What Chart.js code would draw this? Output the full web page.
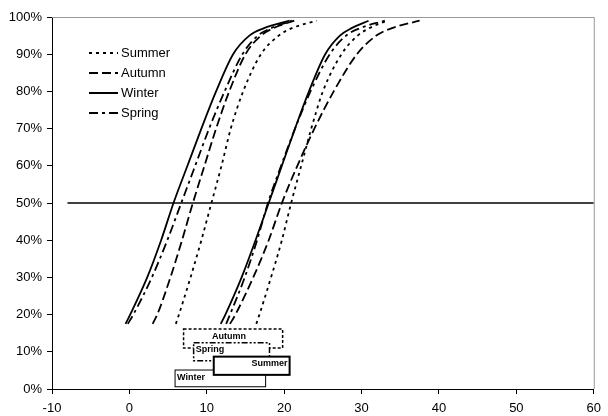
<!DOCTYPE html>
<html>
<head>
<meta charset="utf-8">
<script src="https://cdn.jsdelivr.net/npm/chart.js@4"></script>
<style>
body{margin:0;background:#fff}
#wrap{width:608px;height:416px}
</style>
</head>
<body>
<div id="wrap"><canvas id="c" width="608" height="416"></canvas></div>
<script>
// cumulative levels (%) at which the curves were read
var levels = [17.5, 20, 30, 40, 50, 60, 70, 80, 90, 95, 97, 99];
// first group of curves (x values at each level)
var summerA = [6.0, 6.4, 7.9, 9.3, 10.6, 11.9, 13.1, 14.7, 17.0, 19.3, 21.0, 24.2];
var autumnA = [3.0, 3.6, 5.3, 6.8, 8.2, 9.7, 11.2, 12.9, 15.0, 17.0, 18.6, 21.3];
var winterA = [-0.5, 0.1, 2.3, 4.1, 5.7, 7.5, 9.3, 11.2, 13.4, 15.5, 17.4, 20.7];
var springA = [-0.2, 0.5, 2.9, 4.9, 6.7, 8.5, 10.3, 12.3, 14.6, 16.6, 18.3, 21.0];
// second group of curves
var summerB = [16.4, 16.8, 18.3, 19.7, 20.9, 22.2, 23.5, 25.0, 27.4, 29.5, 31.0, 33.3];
var autumnB = [13.0, 13.7, 16.0, 18.0, 19.7, 21.7, 23.9, 26.4, 29.4, 31.9, 33.9, 37.5];
var winterB = [11.8, 12.4, 14.5, 16.3, 18.0, 19.7, 21.4, 23.2, 25.3, 27.2, 28.7, 30.9];
var springB = [12.5, 13.0, 14.9, 16.5, 17.9, 19.6, 21.4, 23.4, 25.9, 28.0, 29.8, 33.0];
var seasons = ["Summer", "Autumn", "Winter", "Spring"];
// 50% reference line
var refX = [-8, 60];
var refY = 50;
// range boxes at the bottom (x from/to, y top/bottom in %)
var boxSeasons = ["Autumn", "Spring", "Winter", "Summer"];
var boxFrom = [7.0, 8.3, 5.9, 10.9];
var boxTo = [19.8, 18.1, 17.6, 20.7];
var boxTop = [16.1, 12.4, 5.1, 8.7];
var boxBottom = [11.0, 7.6, 0.6, 3.8];

var dashes = {Summer: [3, 4], Autumn: [9, 4], Winter: [], Spring: [9, 4, 3, 4]};
var boxDash = {Autumn: [3, 2], Spring: [6, 2, 2, 2, 2, 2], Winter: [], Summer: []};
var boxWidth = {Autumn: 1.5, Spring: 1.5, Winter: 1, Summer: 2};
var boxAlign = {Autumn: "center", Spring: "left", Winter: "left", Summer: "right"};

function pts(xs) {
  return xs.map(function (x, i) { return {x: x, y: levels[i]}; });
}
function curve(name, xs) {
  return {
    label: name,
    data: pts(xs),
    showLine: true,
    borderColor: "#000",
    borderWidth: 1.8,
    borderDash: dashes[name],
    pointRadius: 0,
    cubicInterpolationMode: "monotone"
  };
}

var datasets = [
  curve("Summer", summerA), curve("Autumn", autumnA), curve("Winter", winterA), curve("Spring", springA),
  curve("Summer", summerB), curve("Autumn", autumnB), curve("Winter", winterB), curve("Spring", springB),
  {
    label: "50%",
    data: refX.map(function (x) { return {x: x, y: refY}; }),
    showLine: true,
    borderColor: "#000",
    borderWidth: 1.3,
    pointRadius: 0
  }
];

var frame = {
  id: "frame",
  beforeDatasetsDraw: function (chart) {
    var a = chart.chartArea, ctx = chart.ctx;
    ctx.save();
    ctx.strokeStyle = "#999";
    ctx.lineWidth = 1;
    ctx.beginPath();
    ctx.moveTo(a.left, a.top + 0.5);
    ctx.lineTo(a.right + 0.5, a.top + 0.5);
    ctx.lineTo(a.right + 0.5, a.bottom);
    ctx.stroke();
    ctx.restore();
  }
};

var extras = {
  id: "extras",
  afterDatasetsDraw: function (chart) {
    var ctx = chart.ctx, xs = chart.scales.x, ys = chart.scales.y;
    ctx.save();
    // boxes
    boxSeasons.forEach(function (s, i) {
      var l = xs.getPixelForValue(boxFrom[i]), r = xs.getPixelForValue(boxTo[i]);
      var t = ys.getPixelForValue(boxTop[i]), b = ys.getPixelForValue(boxBottom[i]);
      ctx.fillStyle = "#fff";
      ctx.fillRect(l, t, r - l, b - t);
      ctx.strokeStyle = "#000";
      ctx.lineWidth = boxWidth[s];
      ctx.setLineDash(boxDash[s]);
      ctx.strokeRect(l, t, r - l, b - t);
      ctx.setLineDash([]);
      ctx.fillStyle = "#000";
      ctx.font = "bold 9px 'Liberation Sans', Arial, sans-serif";
      ctx.textBaseline = "middle";
      ctx.textAlign = boxAlign[s];
      var tx = s === "Autumn" ? (l + r) / 2 - 4 : (boxAlign[s] === "left" ? l + 2 : r - 2);
      ctx.fillText(s, tx, t + 7);
    });
    // legend
    ctx.font = "13px 'Liberation Sans', Arial, sans-serif";
    ctx.textAlign = "left";
    ctx.textBaseline = "middle";
    seasons.forEach(function (s, i) {
      var y = 53 + i * 20;
      ctx.strokeStyle = "#000";
      ctx.lineWidth = 2;
      ctx.setLineDash(dashes[s]);
      ctx.beginPath();
      ctx.moveTo(89, y);
      ctx.lineTo(118, y);
      ctx.stroke();
      ctx.setLineDash([]);
      ctx.fillStyle = "#000";
      ctx.fillText(s, 121, y);
    });
    ctx.restore();
  }
};

Chart.defaults.font.family = "'Liberation Sans', Arial, sans-serif";
Chart.defaults.font.size = 13;
Chart.defaults.color = "#000";

new Chart(document.getElementById("c"), {
  type: "scatter",
  data: {datasets: datasets},
  options: {
    responsive: false,
    animation: false,
    layout: {padding: {top: 17, right: 7, left: 0, bottom: 0}},
    plugins: {legend: {display: false}, tooltip: {enabled: false}},
    scales: {
      x: {
        type: "linear",
        min: -10,
        max: 60,
        ticks: {stepSize: 10, padding: 7, color: "#000"},
        grid: {drawOnChartArea: false, drawTicks: true, tickLength: 5, color: "#000"},
        border: {color: "#000", width: 1},
        afterFit: function (s) { s.height = 27; }
      },
      y: {
        min: 0,
        max: 100,
        ticks: {stepSize: 10, padding: 5, color: "#000", callback: function (v) { return v + "%"; }},
        grid: {drawOnChartArea: false, drawTicks: true, tickLength: 5, color: "#000"},
        border: {color: "#000", width: 1},
        afterFit: function (s) { s.width = 52; }
      }
    }
  },
  plugins: [frame, extras]
});
</script>
</body>
</html>
